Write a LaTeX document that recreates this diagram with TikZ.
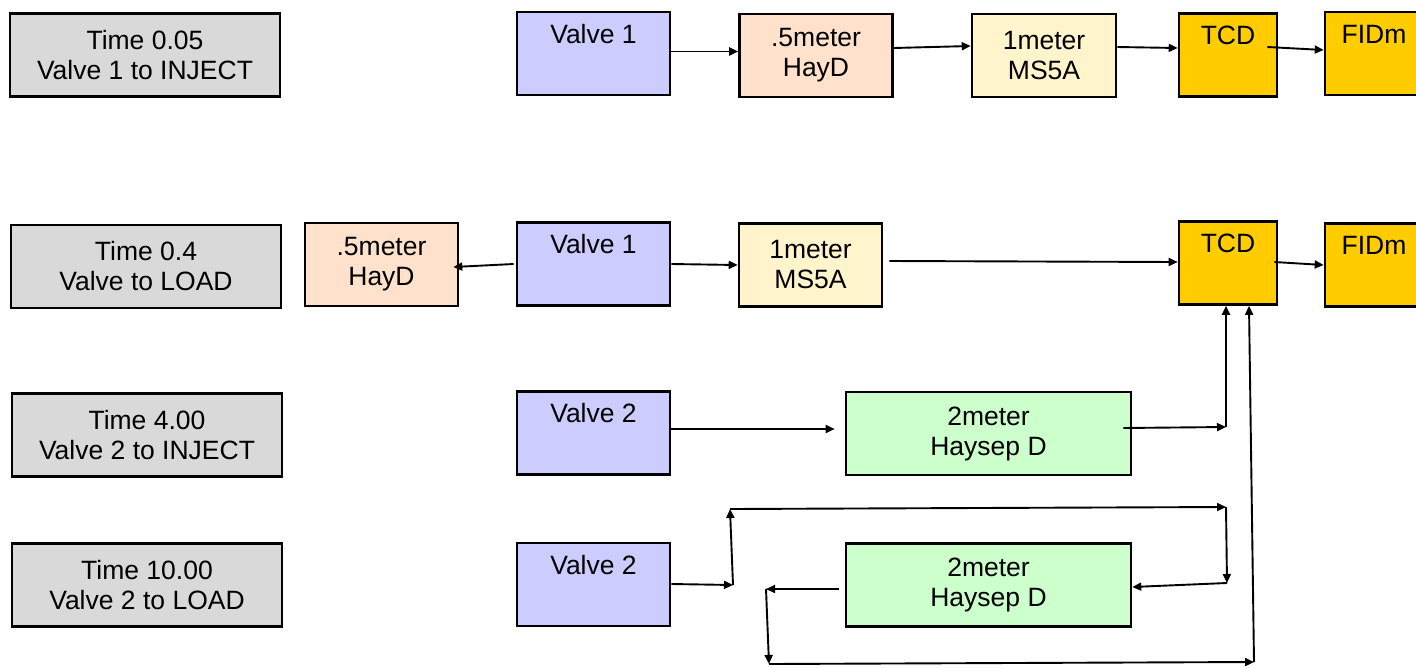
\documentclass[tikz,border=0pt]{standalone}
\usepackage{fontspec}
\setmainfont{Liberation Sans}
\usetikzlibrary{arrows.meta}
\definecolor{timegray}{HTML}{D9D9D9}
\definecolor{valveblue}{HTML}{CCCCFF}
\definecolor{haypeach}{HTML}{FFE1CC}
\definecolor{msyellow}{HTML}{FFF4CC}
\definecolor{detgold}{HTML}{FFCC00}
\definecolor{hsgreen}{HTML}{CCFFCC}
\begin{document}
\begin{tikzpicture}[x=1pt, y=-1pt,
        box/.style={draw=black, line width=2.6pt, rectangle, align=center,
            minimum height=83pt, inner sep=0pt,
            font=\fontsize{26.5}{30}\selectfont},
        toptext/.style={box, text height=31pt, text depth=52pt},
        twoline/.style={box, yshift=0pt},
        timebox/.style={box, fill=timegray, minimum width=270pt},
        valvebox/.style={toptext, fill=valveblue, minimum width=153pt},
        detbox/.style={toptext, fill=detgold, minimum width=98pt},
        haybox/.style={box, fill=haypeach, minimum width=153pt},
        msbox/.style={box, fill=msyellow, minimum width=144pt},
        hsbox/.style={box, fill=hsgreen, minimum width=285pt},
        flow/.style={line width=1.9pt, -{Triangle[length=9pt,width=8pt]}}
    ]
    \clip (0,0) rectangle (1416,667);

    % Time 0.05
    \node[timebox] (t1) at (145,55) {Time 0.05\\Valve 1 to INJECT};
    \node[valvebox] (va1) at (593.5,53.5) {Valve 1};
    \node[haybox] (hay1) at (816,55.5) {.5meter\\HayD};
    \node[msbox] (ms1) at (1044,55.5) {1meter\\MS5A};
    \node[detbox] (tcd1) at (1228,55) {TCD};
    \node[detbox] (fid1) at (1374,53.5) {FIDm};

    \draw[flow] ([yshift=2pt]va1.east) -- ([yshift=4pt]hay1.west);
    \draw[flow] ([yshift=7.5pt]hay1.east) -- ([yshift=9.5pt]ms1.west);
    \draw[flow] ([yshift=8.5pt]ms1.east) -- ([yshift=7pt]tcd1.west);
    \draw[flow] ([xshift=-11pt,yshift=8pt]tcd1.east) -- ([yshift=3.5pt]fid1.west);

    % Time 0.4
    \node[timebox] (t2) at (146,266.5) {Time 0.4\\Valve to LOAD};
    \node[haybox] (hay2) at (381.5,264.5) {.5meter\\HayD};
    \node[valvebox] (va2) at (593.5,264) {Valve 1};
    \node[msbox, minimum width=143pt] (ms2) at (810.5,265) {1meter\\MS5A};
    \node[detbox] (tcd2) at (1228,263) {TCD};
    \node[detbox] (fid2) at (1374,265) {FIDm};

    \draw[flow] ([xshift=-2pt]va2.west) -- ([xshift=-6pt,yshift=-2.5pt]hay2.east);
    \draw[flow] (va2.east) -- (ms2.west);
    \draw[flow] ([xshift=6pt,yshift=4pt]ms2.east) -- ([yshift=1pt]tcd2.west);
    \draw[flow] ([xshift=-4pt,yshift=1pt]tcd2.east) -- ([yshift=0pt]fid2.west);

    % Time 4.00
    \node[timebox] (t3) at (147,435) {Time 4.00\\Valve 2 to INJECT};
    \node[valvebox] (vb3) at (593.5,433) {Valve 2};
    \node[hsbox] (hs3) at (988.5,433.5) {2meter\\Haysep D};

    \coordinate (c3) at (1226,427);
    \draw[flow] ([yshift=4pt]vb3.east) -- ([xshift=-10pt,yshift=4.5pt]hs3.west);
    \draw[flow] ([xshift=-9pt,yshift=5.5pt]hs3.east) -- (c3);
    \draw[flow] (c3) -- ([xshift=-2pt]tcd2.south);

    % Time 10.00
    \node[timebox] (t4) at (147,585) {Time 10.00\\Valve 2 to LOAD};
    \node[valvebox] (vb4) at (593.5,584.5) {Valve 2};
    \node[hsbox] (hs4) at (988.5,585) {2meter\\Haysep D};

    % backflush loop
    \coordinate (a1) at (733,585);
    \coordinate (a2) at (730,509);
    \coordinate (a3) at (1226,507);
    \coordinate (a4) at (1227,583);
    \coordinate (a5) at (766,589);
    \coordinate (a6) at (769,664);
    \coordinate (a7) at (1254,662);
    \draw[flow] ([yshift=0.5pt]vb4.east) -- (a1);
    \draw[flow] (a1) -- (a2);
    \draw[flow] (a2) -- (a3);
    \draw[flow] (a3) -- (a4);
    \draw[flow] (a4) -- ([yshift=-2pt]hs4.east);
    \draw[flow] ([xshift=-6pt,yshift=-4pt]hs4.west) -- (a5);
    \draw[flow] (a5) -- (a6);
    \draw[flow] (a6) -- (a7);
    \draw[flow] (a7) -- ([xshift=21pt]tcd2.south);
\end{tikzpicture}
\end{document}
